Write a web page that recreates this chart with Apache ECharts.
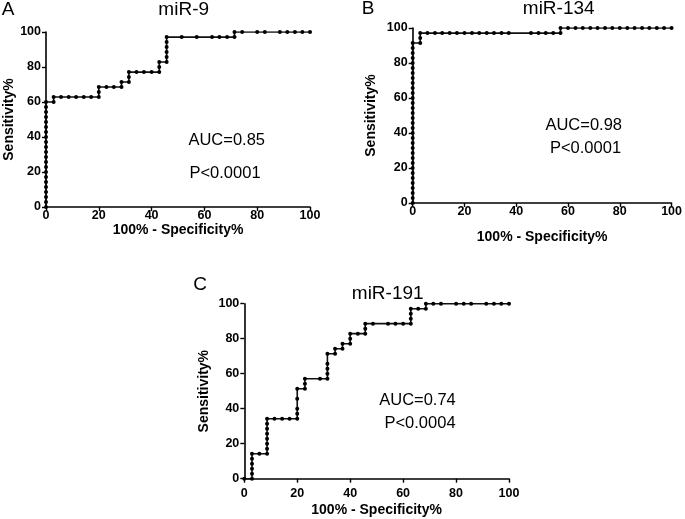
<!DOCTYPE html>
<html><head><meta charset="utf-8">
<script src="https://cdn.jsdelivr.net/npm/echarts@6/dist/echarts.min.js"></script>
<style>html,body{margin:0;padding:0;background:#fff}#c{width:685px;height:519px}</style>
</head><body><div id="c"></div><script>
// ROC points [100% - Specificity%, Sensitivity%]
const rocA = [[0,0],[0,2.9],[0,5.7],[0,8.6],[0,11.4],[0,14.3],[0,17.1],[0,20],[0,22.9],[0,25.7],[0,28.6],[0,31.4],[0,34.3],[0,37.1],[0,40],[0,42.9],[0,45.7],[0,48.6],[0,51.4],[0,54.3],[0,57.1],[0,60],
  [2.9,60],[2.9,62.9],[5.7,62.9],[8.6,62.9],[11.4,62.9],[14.3,62.9],[17.1,62.9],[20,62.9],[20,65.7],[20,68.6],[22.9,68.6],[25.7,68.6],[28.6,68.6],[28.6,71.4],[31.4,71.4],[31.4,74.3],[31.4,77.1],[34.3,77.1],[37.1,77.1],[40,77.1],[42.9,77.1],[42.9,80],[42.9,82.9],[45.7,82.9],[45.7,85.7],[45.7,88.6],[45.7,91.4],[45.7,94.3],[45.7,97.1],[51.4,97.1],[57.1,97.1],[62.9,97.1],[65.7,97.1],[68.6,97.1],[71.4,97.1],[71.4,100],[74.3,100],[80,100],[82.9,100],[88.6,100],[91.4,100],[94.3,100],[97.1,100],[100,100]];
const rocB = [[0,0],[0,2.9],[0,5.7],[0,8.6],[0,11.4],[0,14.3],[0,17.1],[0,20],[0,22.9],[0,25.7],[0,28.6],[0,31.4],[0,34.3],[0,37.1],[0,40],[0,42.9],[0,45.7],[0,48.6],[0,51.4],[0,54.3],[0,57.1],[0,60],[0,62.9],[0,65.7],[0,68.6],[0,71.4],[0,74.3],[0,77.1],[0,80],[0,82.9],[0,85.7],[0,88.6],[0,91.4],
  [2.9,91.4],[2.9,94.3],[2.9,97.1],[5.7,97.1],[8.6,97.1],[11.4,97.1],[14.3,97.1],[17.1,97.1],[20,97.1],[22.9,97.1],[25.7,97.1],[28.6,97.1],[31.4,97.1],[34.3,97.1],[37.1,97.1],[45.7,97.1],[48.6,97.1],[51.4,97.1],[54.3,97.1],[57.1,97.1],[57.1,100],[60,100],[62.9,100],[65.7,100],[68.6,100],[71.4,100],[74.3,100],[77.1,100],[80,100],[82.9,100],[85.7,100],[88.6,100],[91.4,100],[94.3,100],[97.1,100],[100,100]];
const rocC = [[0,0],[2.9,0],[2.9,2.9],[2.9,5.7],[2.9,8.6],[2.9,11.4],[2.9,14.3],[5.7,14.3],[8.6,14.3],[8.6,17.1],[8.6,20],[8.6,22.9],[8.6,25.7],[8.6,28.6],[8.6,31.4],[8.6,34.3],[11.4,34.3],[14.3,34.3],[17.1,34.3],[20,34.3],[20,37.1],[20,40],[20,45.7],[20,51.4],[22.9,51.4],[22.9,54.3],[22.9,57.1],[28.6,57.1],[31.4,57.1],[31.4,60],[31.4,62.9],[31.4,65.7],[31.4,71.4],[34.3,71.4],[34.3,74.3],[37.1,74.3],[37.1,77.1],[40,77.1],[40,80],[40,82.9],[42.9,82.9],[45.7,82.9],[45.7,85.7],[45.7,88.6],[48.6,88.6],[54.3,88.6],[57.1,88.6],[60,88.6],[62.9,88.6],[62.9,91.4],[62.9,94.3],[62.9,97.1],[65.7,97.1],[68.6,97.1],[68.6,100],[71.4,100],[74.3,100],[80,100],[82.9,100],[85.7,100],[91.4,100],[94.3,100],[97.1,100],[100,100]];
const panelLetters = ['A','B','C'];
const panelTitles = ['miR-9','miR-134','miR-191'];
const aucTexts = ['AUC=0.85','AUC=0.98','AUC=0.74'];
const pTexts = ['P<0.0001','P<0.0001','P<0.0004'];
const xName = '100% - Specificity%';
const yName = 'Sensitivity%';

const FF = 'Liberation Sans, Arial, Helvetica, sans-serif';
const chart = echarts.init(document.getElementById('c'));
const grids = [
  {left:46, top:32, width:264, height:175},
  {left:412.7, top:28, width:262.3, height:175},
  {left:244.3, top:303.7, width:264.7, height:175}
];
const xLabelMargin = [2, 2, 8];
const xNameGap = [10, 27, 24];
const yNameGap = [30, 34.5, 33];
const axisLine = {show:true, onZero:false, lineStyle:{color:'#000', width:1.6}};
const axisTick = {show:true, inside:false, length:4, lineStyle:{color:'#000', width:1.4}};
const labelStyle = {color:'#000', fontFamily:FF, fontWeight:'bold', fontSize:12.5};
const nameStyle = {color:'#000', fontFamily:FF, fontWeight:'bold', fontSize:14};

const xAxis = grids.map((g,i)=>({
  type:'value', gridIndex:i, min:0, max:100, interval:20,
  axisLine, axisTick, splitLine:{show:false},
  axisLabel:Object.assign({margin:xLabelMargin[i], showMinLabel:true, showMaxLabel:true}, labelStyle),
  name:xName, nameLocation:'middle', nameGap:xNameGap[i], nameTextStyle:nameStyle
}));
const yAxis = grids.map((g,i)=>({
  type:'value', gridIndex:i, min:0, max:100, interval:20,
  axisLine, axisTick, splitLine:{show:false},
  axisLabel:Object.assign({margin:5, showMinLabel:true, showMaxLabel:true}, labelStyle),
  name:yName, nameLocation:'middle', nameGap:yNameGap[i], nameTextStyle:nameStyle
}));
const series = [rocA, rocB, rocC].map((d,i)=>({
  type:'line', xAxisIndex:i, yAxisIndex:i, data:d, animation:false,
  symbol:'circle', symbolSize:4, showSymbol:true, showAllSymbol:true,
  lineStyle:{color:'#111', width:1.6}, itemStyle:{color:'#000'}, z:3
}));

const letterPos = [[8,10],[368,9],[200,285]];
const titlePos = [[183.7,10],[558.7,9],[387.7,294]];
const aucPos = [[226.7,140],[583.7,125],[417.5,400]];
const pPos = [[225,173.5],[585.5,148],[420,423]];
const graphic = [];
for (let i=0;i<3;i++){
  graphic.push({type:'text', x:letterPos[i][0], y:letterPos[i][1], style:{text:panelLetters[i], fill:'#000', font:'19px '+FF, textAlign:'center', textVerticalAlign:'middle'}});
  graphic.push({type:'text', x:titlePos[i][0], y:titlePos[i][1], style:{text:panelTitles[i], fill:'#000', font:'19px '+FF, textAlign:'center', textVerticalAlign:'middle'}});
  graphic.push({type:'text', x:aucPos[i][0], y:aucPos[i][1], style:{text:aucTexts[i], fill:'#000', font:'16.5px '+FF, textAlign:'center', textVerticalAlign:'middle'}});
  graphic.push({type:'text', x:pPos[i][0], y:pPos[i][1], style:{text:pTexts[i], fill:'#000', font:'16.5px '+FF, textAlign:'center', textVerticalAlign:'middle'}});
}
chart.setOption({
  backgroundColor:'#fff', animation:false,
  grid:grids.map(g=>Object.assign({containLabel:false}, g)),
  xAxis, yAxis, series, graphic
});
</script></body></html>
